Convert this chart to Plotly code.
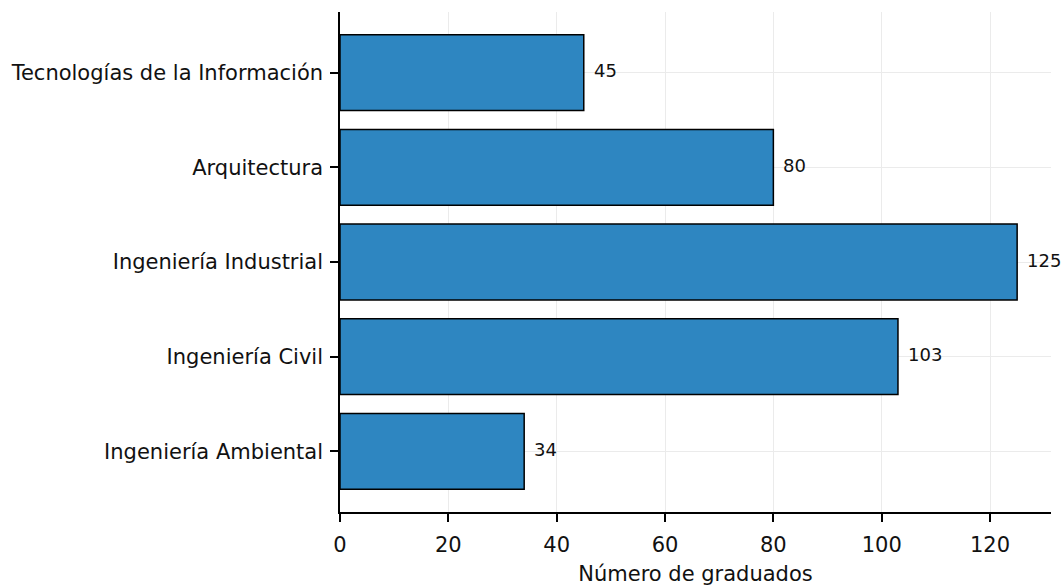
import plotly.graph_objects as go

# Datos
carreras = [
    "Ingeniería Ambiental",
    "Ingeniería Civil",
    "Ingeniería Industrial",
    "Arquitectura",
    "Tecnologías de la Información",
]
graduados = [34, 103, 125, 80, 45]

fig = go.Figure()

fig.add_trace(go.Bar(
    x=graduados,
    y=carreras,
    orientation="h",
    width=0.8,
    marker=dict(color="#2E86C1", line=dict(color="black", width=1.5)),
    hoverinfo="x+y",
))

# Etiquetas de valor a la derecha de cada barra
for c, v in zip(carreras, graduados):
    fig.add_annotation(
        x=v, y=c, text=str(v),
        showarrow=False, xanchor="left", yanchor="middle",
        xshift=8, yshift=2,
        font=dict(size=18, color="#111111"),
    )

fig.update_layout(
    width=1063, height=586,
    margin=dict(l=340, r=12, t=12, b=74),
    paper_bgcolor="white",
    plot_bgcolor="white",
    font=dict(family="DejaVu Sans", size=21, color="#111111"),
    showlegend=False,
)

fig.update_xaxes(
    range=[0, 131.25],
    tickvals=[0, 20, 40, 60, 80, 100, 120],
    showgrid=True, gridcolor="#ebebeb", gridwidth=1,
    showline=True, linecolor="black", linewidth=1.5,
    ticks="outside", ticklen=8, tickwidth=1.5, tickcolor="black",
    ticklabelstandoff=5,
    zeroline=False, automargin=False,
    title=dict(text="Número de graduados", standoff=18, font=dict(size=21)),
)
fig.update_yaxes(
    type="category",
    categoryorder="array", categoryarray=carreras,
    range=[-0.64, 4.64],
    showgrid=True, gridcolor="#ebebeb", gridwidth=1,
    showline=True, linecolor="black", linewidth=1.5,
    ticks="outside", ticklen=8, tickwidth=1.5, tickcolor="black",
    ticklabelstandoff=3,
    zeroline=False, automargin=False,
)

fig.write_html("out.html", config={"displayModeBar": False},
               post_script="document.body.style.margin='0';")
